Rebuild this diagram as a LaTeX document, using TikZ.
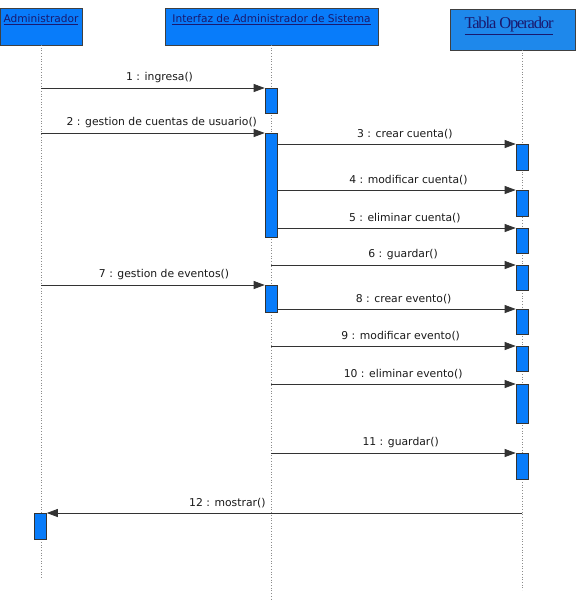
\documentclass[tikz,border=0pt]{standalone}
\usepackage{fontspec}
\setmainfont{DejaVu Sans}
\newfontfamily\tabfont{Liberation Serif}[LetterSpace=-7]
\usetikzlibrary{arrows.meta}
\definecolor{boxblue}{RGB}{8,124,250}
\definecolor{tabblue}{RGB}{30,136,235}
\definecolor{navytext}{RGB}{25,25,110}
\tikzset{
  hdrbox/.style={draw=black!75, line width=0.8pt, fill=boxblue, inner sep=0pt, anchor=north west},
  hdrtext/.style={text=navytext, font=\fontsize{10.6}{12}\selectfont, inner sep=0pt},
  lifeline/.style={draw=black!45, line width=0.7pt, dotted},
  act/.style={draw=black!80, line width=0.6pt, fill=boxblue, minimum width=12pt, inner sep=0pt, anchor=north},
  msg/.style={draw=black!80, line width=0.8pt, -{Triangle[length=11pt,width=8pt]}},
  lbl/.style={font=\fontsize{10.8}{12}\selectfont, text=black!90, above=4pt, inner sep=1pt}
}
\begin{document}
\begin{tikzpicture}[x=1pt,y=-1pt]
\useasboundingbox (0,0) rectangle (576,600);
% headers
\node[hdrbox, minimum width=82pt, minimum height=37pt] (hA) at (0,8) {};
\node[hdrtext] (tA) at (41,20) {\underline{Administrador}};
\node[hdrbox, minimum width=213pt, minimum height=37pt] (hI) at (165,8) {};
\node[hdrtext] (tI) at (271.5,20) {\underline{Interfaz de Administrador de Sistema}};
\node[hdrbox, fill=tabblue, minimum width=125pt, minimum height=41pt] (hT) at (450,9) {};
\node[text=navytext, inner sep=0pt, font=\tabfont\fontsize{16.5}{17}\selectfont] (tT) at (509,26) {\underline{Tabla Operador}};
% lifelines
\coordinate (lA) at (41,45);
\coordinate (eA) at (41,578);
\coordinate (lI) at (271,45);
\coordinate (eI) at (271,600);
\coordinate (lT) at (522,50);
\coordinate (eT) at (522,590);
\draw[lifeline] (lA) -- (eA);
\draw[lifeline] (lI) -- (eI);
\draw[lifeline] (lT) -- (eT);
% activations
\node[act, minimum height=25pt] (a1) at (271,88) {};
\node[act, minimum height=104pt] (a2) at (271,133) {};
\node[act, minimum height=26pt] (t3) at (522,144) {};
\node[act, minimum height=26pt] (t4) at (522,190) {};
\node[act, minimum height=25pt] (t5) at (522,228) {};
\node[act, minimum height=25pt] (t6) at (522,265) {};
\node[act, minimum height=27pt] (a7) at (271,285) {};
\node[act, minimum height=25pt] (t8) at (522,309) {};
\node[act, minimum height=25pt] (t9) at (522,346) {};
\node[act, minimum height=39pt] (t10) at (522,384) {};
\node[act, minimum height=26pt] (t11) at (522,453) {};
\node[act, minimum height=26pt] (d12) at (40.5,513) {};
% messages
\draw[msg] (lA |- a1.north west) -- node[lbl, pos=0.53] {1 : ingresa()} (a1.north west);
\draw[msg] (lA |- a2.north west) -- node[lbl, pos=0.54] {2 : gestion de cuentas de usuario()} (a2.north west);
\draw[msg] (a2.east |- t3.north west) -- node[lbl, pos=0.535] {3 : crear cuenta()} (t3.north west);
\draw[msg] (a2.east |- t4.north west) -- node[lbl, pos=0.55] {4 : modificar cuenta()} (t4.north west);
\draw[msg] (a2.east |- t5.north west) -- node[lbl, pos=0.535] {5 : eliminar cuenta()} (t5.north west);
\draw[msg] (lI |- t6.north west) -- node[lbl, pos=0.54] {6 : guardar()} (t6.north west);
\draw[msg] (lA |- a7.north west) -- node[lbl, pos=0.55] {7 : gestion de eventos()} (a7.north west);
\draw[msg] (a7.east |- t8.north west) -- node[lbl, pos=0.53] {8 : crear evento()} (t8.north west);
\draw[msg] (lI |- t9.north west) -- node[lbl, pos=0.53] {9 : modificar evento()} (t9.north west);
\draw[msg] (lI |- t10.north west) -- node[lbl, pos=0.54] {10 : eliminar evento()} (t10.north west);
\draw[msg] (lI |- t11.north west) -- node[lbl, pos=0.53] {11 : guardar()} (t11.north west);
\draw[msg] (lT |- d12.north east) -- node[lbl, pos=0.62] {12 : mostrar()} (d12.north east);
\end{tikzpicture}
\end{document}
